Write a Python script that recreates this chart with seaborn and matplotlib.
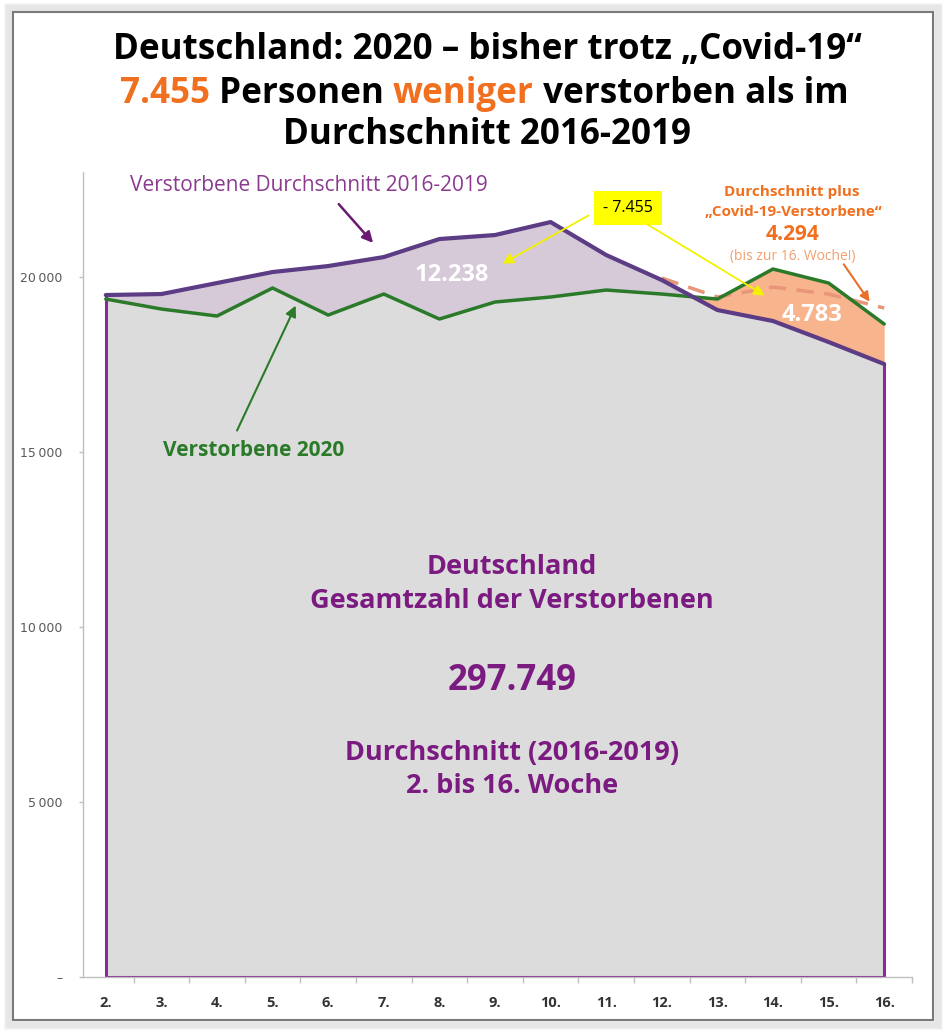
import matplotlib
matplotlib.use("Agg")
import matplotlib.pyplot as plt
import numpy as np
import seaborn as sns
from matplotlib.patches import Rectangle

# Daten
wochen = [2, 3, 4, 5, 6, 7, 8, 9, 10, 11, 12, 13, 14, 15, 16]
wochen_labels = ["2.", "3.", "4.", "5.", "6.", "7.", "8.", "9.", "10.", "11.", "12.", "13.", "14.", "15.", "16."]
durchschnitt = [19485, 19513, 19828, 20142, 20313, 20570, 21085, 21199, 21570, 20628, 19913, 19056, 18742, 18142, 17513]
verstorbene_2020 = [19370, 19085, 18885, 19685, 18913, 19513, 18799, 19285, 19428, 19628, 19513, 19370, 20228, 19828, 18656]
covid_wochen = [12, 13, 14, 15, 16]
durchschnitt_plus_covid = [19970, 19428, 19713, 19513, 19113]
y_ticks = [0, 5000, 10000, 15000, 20000]
y_labels = ["–", "5\u2009000", "10\u2009000", "15\u2009000", "20\u2009000"]

sns.set_style("white")
plt.rcParams['font.family'] = ['Open Sans', 'DejaVu Sans']

lila_text = '#7b1a80'
orange = '#f07020'
gruen = '#2a7a2a'

W, H = 949, 1036
fig = plt.figure(figsize=(W / 100, H / 100), dpi=100)
ax = fig.add_axes([83 / W, 1 - 977 / H, (912 - 83) / W, (977 - 172) / H])

x = np.array(wochen)
avg = np.array(durchschnitt)
v20 = np.array(verstorbene_2020)

# Flaechen
ax.fill_between(x, 0, avg, color='#dcdcdc', lw=0)
ax.fill_between(x, v20, avg, where=avg >= v20, interpolate=True, color='#d6c9d8', lw=0)
ax.fill_between(x, avg, v20, where=v20 > avg, interpolate=True, color='#f8b48c', lw=0)

# Rahmen der Flaeche
ax.vlines([wochen[0]], 0, durchschnitt[0], color='#8a2a96', lw=2.2)
ax.vlines([wochen[-1]], 0, durchschnitt[-1], color='#8a2a96', lw=2.2)
ax.hlines([0], wochen[0], wochen[-1], color='#8a2a96', lw=2.2)

# Linien
sns.lineplot(x=covid_wochen, y=durchschnitt_plus_covid, ax=ax, color='#e8957a', lw=2.5)
ax.lines[-1].set_dashes([5, 3])
sns.lineplot(x=wochen, y=verstorbene_2020, ax=ax, color=gruen, lw=2.5)
sns.lineplot(x=wochen, y=durchschnitt, ax=ax, color='#5c3c84', lw=3)

ax.set_xlim(1.59, 16.5)
ax.set_ylim(0, 23000)

for s in ['top', 'right']:
    ax.spines[s].set_visible(False)
for s in ['left', 'bottom']:
    ax.spines[s].set_color('#bfbfbf')
    ax.spines[s].set_linewidth(1)

ax.set_yticks(y_ticks)
ax.set_yticklabels(y_labels, fontsize=9, color='#595959', family=['DejaVu Sans'])
ax.tick_params(axis='y', length=3, width=1, color='#bfbfbf', pad=12, left=True)
ax.set_xticks(wochen)
ax.set_xticklabels(wochen_labels, fontsize=10.5, fontweight='bold', color='#333333')
ax.set_xticks(np.arange(1.5, 17, 1)[1:], minor=True)
ax.tick_params(axis='x', which='major', length=0, pad=14)
ax.tick_params(axis='x', which='minor', length=4, width=1, color='#bfbfbf', bottom=True)
ax.set_xlabel('')
ax.set_ylabel('')


def px(xp, yp):
    return (2 + (xp - 106) / 55.57, (977 - yp) * 28.57)


# Beschriftungen im Diagramm
ax.text(*px(130, 185), "Verstorbene Durchschnitt 2016-2019", color='#8b3a8f', fontsize=15,
        ha='left', va='center')
ax.annotate("", xy=px(375, 245), xytext=px(337, 202),
            arrowprops=dict(arrowstyle='-|>', color='#6a1a70', lw=1.8, mutation_scale=16))

ax.text(*px(452, 275), "12.238", color='white', fontsize=17, fontweight='bold', ha='center', va='center')
ax.text(*px(812, 315), "4.783", color='white', fontsize=17, fontweight='bold', ha='center', va='center')

ax.text(*px(628, 208), "- 7.455", color='black', fontsize=11.5, ha='center', va='center',
        bbox=dict(boxstyle='square,pad=0.55', fc='#ffff00', ec='none'))
ax.annotate("", xy=px(500, 265), xytext=px(591, 214),
            arrowprops=dict(arrowstyle='-|>', color='#f2f200', lw=1.3, mutation_scale=16))
ax.annotate("", xy=px(767, 297), xytext=px(645, 223),
            arrowprops=dict(arrowstyle='-|>', color='#f2f200', lw=1.3, mutation_scale=16))

ax.text(*px(792, 192), "Durchschnitt plus", color=orange, fontsize=11, fontweight='bold', ha='center', va='center')
ax.text(*px(793, 212), "\u201eCovid-19-Verstorbene\u201c", color=orange, fontsize=11, fontweight='bold',
        ha='center', va='center')
ax.text(*px(792, 234), "4.294", color=orange, fontsize=15, fontweight='bold', ha='center', va='center')
ax.text(*px(793, 256), "(bis zur 16. Woche!)", color='#f2a070', fontsize=10, ha='center', va='center')
ax.annotate("", xy=px(871, 304), xytext=px(842, 262),
            arrowprops=dict(arrowstyle='-|>', color='#e8702a', lw=1.5, mutation_scale=14))

ax.text(*px(254, 450), "Verstorbene 2020", color=gruen, fontsize=15, fontweight='bold', ha='center', va='center')
ax.annotate("", xy=px(297, 303), xytext=px(236, 433),
            arrowprops=dict(arrowstyle='-|>', color=gruen, lw=1.5, mutation_scale=16))

ax.text(*px(512, 567), "Deutschland", color=lila_text, fontsize=19.5, fontweight='bold', ha='center', va='center')
ax.text(*px(512, 601), "Gesamtzahl der Verstorbenen", color=lila_text, fontsize=19.5, fontweight='bold',
        ha='center', va='center')
ax.text(*px(512, 681), "297.749", color=lila_text, fontsize=25, fontweight='bold', ha='center', va='center')
ax.text(*px(512, 753), "Durchschnitt (2016-2019)", color=lila_text, fontsize=19.5, fontweight='bold',
        ha='center', va='center')
ax.text(*px(512, 786), "2. bis 16. Woche", color=lila_text, fontsize=19.5, fontweight='bold',
        ha='center', va='center')

# Titel
cx = 487 / W
fig.text(cx, 1 - 50 / H, "Deutschland: 2020 \u2013 bisher trotz \u201eCovid-19\u201c", fontsize=25.2,
         fontweight='bold', color='black', ha='center', va='center')
fig.text(cx, 1 - 135 / H, "Durchschnitt 2016-2019", fontsize=25.2, fontweight='bold', color='black',
         ha='center', va='center')
teile = [("7.455", orange), (" Personen ", 'black'), ("weniger", orange), (" verstorben als im", 'black')]
renderer = fig.canvas.get_renderer()
objs = [fig.text(0, 1 - 94 / H, s, fontsize=25.2, fontweight='bold', color=c, ha='left', va='center')
        for s, c in teile]
breiten = [t.get_window_extent(renderer).width for t in objs]
xpos = 484 - sum(breiten) / 2
for t, b in zip(objs, breiten):
    t.set_x(xpos / W)
    xpos += b

# Rahmen mit Schatten
for i in range(8, 0, -1):
    fig.patches.append(Rectangle(((13 - i) / W, 1 - (1020 + i) / H), (920 + 2 * i) / W, (1008 + 2 * i) / H,
                                 transform=fig.transFigure, fill=False, edgecolor='#000000',
                                 alpha=0.035, lw=2))
fig.patches.append(Rectangle((13 / W, 1 - 1020 / H), 920 / W, 1008 / H, transform=fig.transFigure,
                             fill=False, edgecolor='#7a7a7a', lw=1.5))

fig.savefig('out.png', dpi=100)
